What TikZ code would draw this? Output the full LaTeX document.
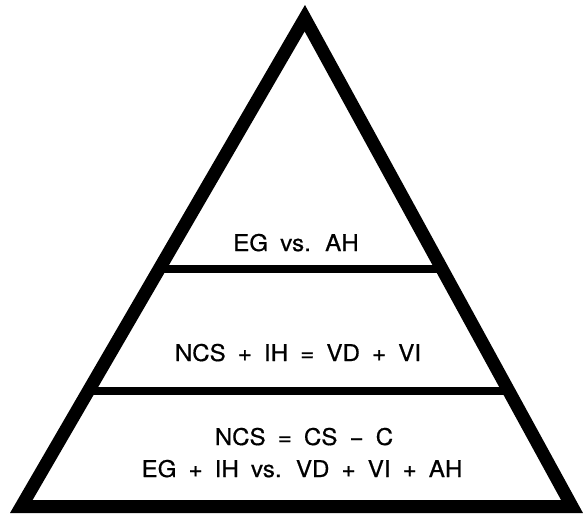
\documentclass[tikz,border=0pt]{standalone}
\usepackage{fontspec}
\setmainfont[FakeStretch=1.05,WordSpace=1.8,FakeBold=0.6]{TeX Gyre Heros}
\usetikzlibrary{calc}
\begin{document}
\begin{tikzpicture}[x=1pt,y=-1pt,
  outline/.style={line width=13pt, line join=miter},
  divider/.style={line width=8.5pt},
  lbl/.style={anchor=base, inner sep=0pt, font=\fontsize{23}{27}\selectfont}]
\useasboundingbox (0,0) rectangle (584,517);
\coordinate (L) at (21.3,506.5);
\coordinate (R) at (572,506.5);
\coordinate (A) at (304.8,18.2);
\coordinate (d1l) at ($(L)!0.4864!(A)$);
\coordinate (d1r) at ($(R)!0.4864!(A)$);
\coordinate (d2l) at ($(L)!0.2365!(A)$);
\coordinate (d2r) at ($(R)!0.2365!(A)$);
\draw[divider] (d1l) -- (d1r);
\draw[divider] (d2l) -- (d2r);
\draw[outline] (L) -- (A) -- (R) -- cycle;
\node[lbl] (t1) at (296,251) {EG vs. AH};
\node[lbl] (t2) at (298,361) {NCS + IH = VD + VI};
\node[lbl] (t3) at (304,445) {NCS = CS − C};
\node[lbl] (t4) at (302,477) {EG + IH vs. VD + VI + AH};
\end{tikzpicture}
\end{document}
